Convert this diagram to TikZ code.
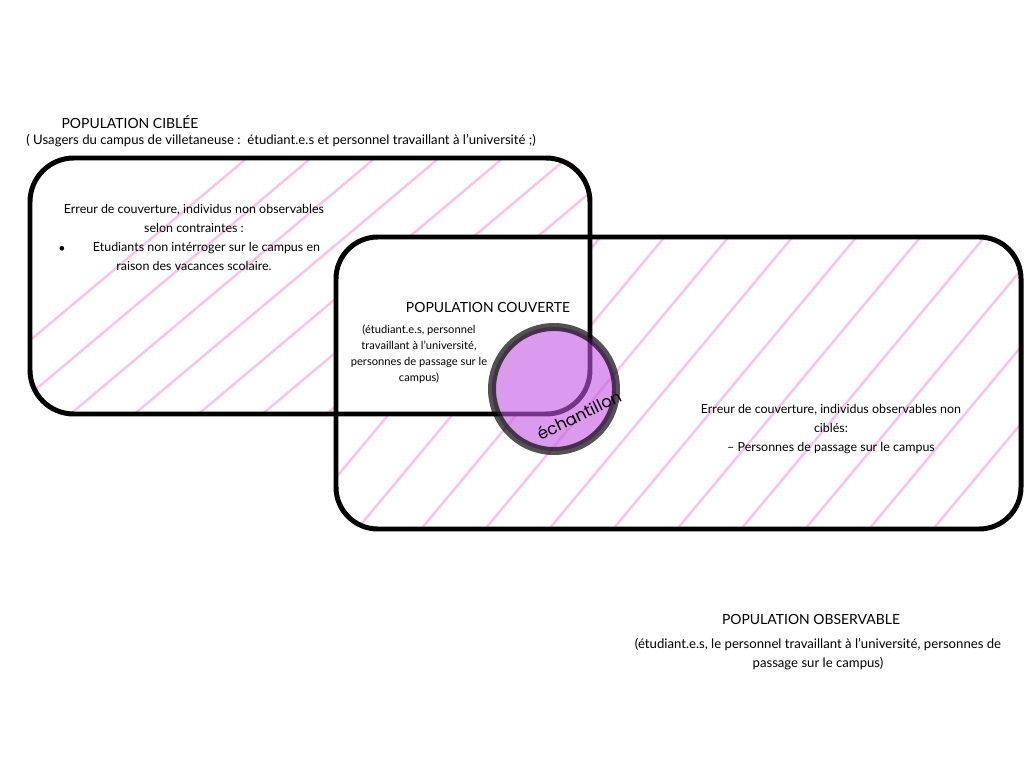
\documentclass[tikz,border=0pt]{standalone}
\usepackage{fontspec}
\setmainfont{Lato}
\newfontfamily\samplefont{Poppins}
\definecolor{hatchpink}{RGB}{252,194,232}
\definecolor{samplefill}{RGB}{197,88,227}

\tikzset{
  hatchline/.style={hatchpink, line width=2.4},
  popbox/.style={line width=5, rounded corners=44},
  titletext/.style={font=\fontsize{14}{18}\selectfont, inner sep=0},
  bodytext/.style={font=\fontsize{12.5}{19}\selectfont, align=center, inner sep=0},
  widetext/.style={font=\fontsize{13.2}{19}\selectfont, align=center, inner sep=0},
  smalltext/.style={font=\fontsize{11.2}{16}\selectfont, align=center, inner sep=0}
}

\begin{document}
\begin{tikzpicture}[x=1bp, y=-1bp]
	\useasboundingbox[fill=white] (0,0) rectangle (1024,768);

	% hatching of the target population
	\begin{scope}
		\clip[rounded corners=44] (30,158) rectangle (590,414);
		\foreach \x in {-160,-96,...,700}
			\draw[hatchline] (\x,500) -- (\x+500,80);
	\end{scope}
	% hatching of the observable population
	\begin{scope}
		\clip[rounded corners=42] (336,237) rectangle (1021,529);
		\foreach \x in {170,234,...,1100}
			\draw[hatchline] (\x,600) -- (\x+330,204);
	\end{scope}
	% covered population: no hatching
	\begin{scope}
		\clip[rounded corners=44] (30,158) rectangle (590,414);
		\fill[white, rounded corners=42] (336,237) rectangle (1021,529);
	\end{scope}

	\draw[popbox] (30,158) rectangle (590,414);
	\draw[popbox, rounded corners=42] (336,237) rectangle (1021,529);

	\node[titletext] (cibleetitle) at (130,122) {POPULATION CIBLÉE};
	\node[widetext] (cibleesub) at (281,141) {( Usagers du campus de villetaneuse :\ \ étudiant.e.s et personnel travaillant à l’université ;)};

	\node[bodytext, anchor=north] (erreurnon) at (194,204)
		{Erreur de couverture, individus non observables\\ selon contraintes :\\
		 \hspace*{2em}Etudiants non intérroger sur le campus en\\ raison des vacances scolaire.};
	\node[bodytext] (bullet) at (62,249) {•};

	\node[titletext] (couvertetitle) at (488,308) {POPULATION COUVERTE};
	\node[smalltext, anchor=north] (couvertesub) at (419,325)
		{(étudiant.e.s, personnel\\ travaillant à l’université,\\ personnes de passage sur le\\ campus)};

	\node[bodytext, anchor=north] (erreurobs) at (831,404)
		{Erreur de couverture, individus observables non\\ ciblés:\\ – Personnes de passage sur le campus};

	\node[titletext] (observabletitle) at (811,620) {POPULATION OBSERVABLE};
	\node[widetext, anchor=north] (observablesub) at (818,638)
		{(étudiant.e.s, le personnel travaillant à l’université, personnes de\\ passage sur le campus)};

	% sample
	\draw[line width=8, draw=black, draw opacity=0.68, fill=samplefill, fill opacity=0.6] (554,389) circle (62);
	\node[font=\samplefont\fontsize{16.5}{18}\selectfont, rotate=26, inner sep=0] (echantillon) at (579,415) {échantillon};
\end{tikzpicture}
\end{document}
